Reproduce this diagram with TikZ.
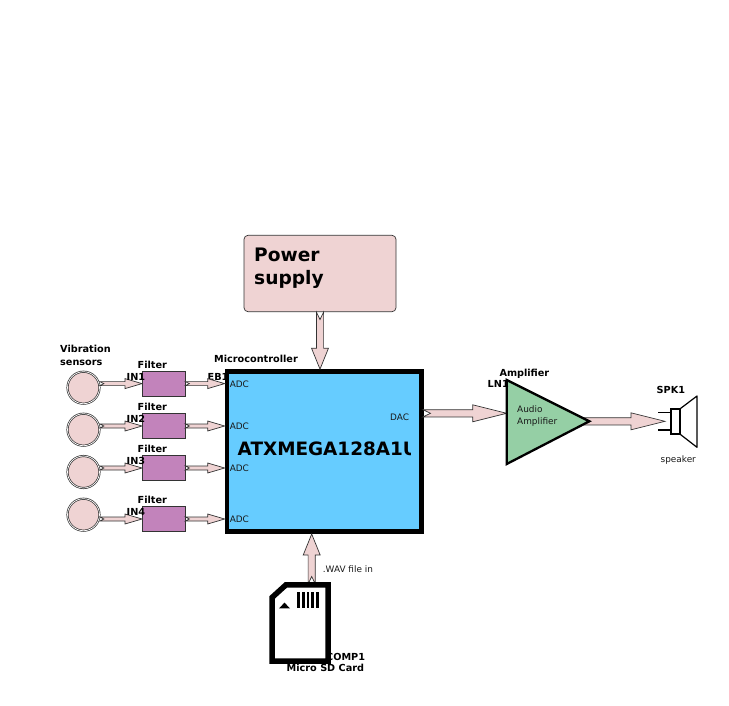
\documentclass[tikz,border=0pt]{standalone}
\usepackage{fontspec}
\setmainfont{DejaVu Sans}
\usetikzlibrary{positioning}
\usetikzlibrary{calc}
\definecolor{palepink}{HTML}{EFD3D3}
\definecolor{filterpurple}{HTML}{C283BB}
\definecolor{mcublue}{HTML}{66CCFF}
\definecolor{ampgreen}{HTML}{95CFA5}

\begin{document}
\begin{tikzpicture}
    [
    x=1pt, y=-1pt,
    sensor/.style={circle, fill=palepink, draw=black!80, double=white, double distance=0.7pt, line width=0.7pt, minimum size=32pt, inner sep=0pt},
    filterbox/.style={rectangle, fill=filterpurple, draw=black!80, line width=0.7pt, minimum width=42.7pt, minimum height=25.4pt, inner sep=0pt},
    title/.style={anchor=base west, inner sep=0pt, font=\fontsize{9.7}{11.5}\selectfont\bfseries},
    note/.style={anchor=base west, inner sep=0pt, font=\fontsize{8.9}{12}\selectfont, text=black!90},
    pipe/.style n args={4}{draw=black!80, fill=palepink, line width=0.7pt, line join=miter, to path={
        ($(\tikztostart)!#1pt!90:(\tikztotarget)$)
        -- ($(\tikztotarget)!#3pt!(\tikztostart)!#1pt!90:(\tikztotarget)$)
        -- ($(\tikztotarget)!#3pt!(\tikztostart)!#2pt!90:(\tikztotarget)$)
        -- (\tikztotarget)
        -- ($(\tikztotarget)!#3pt!(\tikztostart)!#2pt!-90:(\tikztotarget)$)
        -- ($(\tikztotarget)!#3pt!(\tikztostart)!#1pt!-90:(\tikztotarget)$)
        -- ($(\tikztostart)!#1pt!-90:(\tikztotarget)$)
        -- ($(\tikztostart)!#4pt!(\tikztotarget)$)
        -- cycle}},
    smallpipe/.style={pipe={2}{5}{17}{4}},
    bigpipe/.style={pipe={3.6}{8.5}{21}{7.5}},
    longpipe/.style={pipe={3.6}{8.5}{34}{7.5}},
    ]

    \useasboundingbox (0,0) rectangle (729,705);

    % power and controller
    \node[rectangle, rounded corners=4pt, fill=palepink, draw=black!80, line width=0.7pt, minimum width=152pt, minimum height=76.4pt, inner sep=0pt]
    (power) at (320,273.5) {};
    \node[title, font=\fontsize{18.6}{23}\selectfont\bfseries] (power_one) at (254,261.7) {Power};
    \node[title, font=\fontsize{18.6}{23}\selectfont\bfseries] (power_two) at (254,284.3) {supply};

    \node[rectangle, fill=mcublue, draw=black, line width=4.7pt, minimum width=194.5pt, minimum height=160.2pt, inner sep=0pt]
    (mcu) at (324.25,451.6) {};
    \begin{scope}
        \clip (229,430) rectangle (410.5,465);
        \node[title, font=\fontsize{18.4}{22}\selectfont\bfseries] (mcu_name) at (237.5,455) {ATXMEGA128A1U};
    \end{scope}
    \node[title] (mcu_title) at (214,362.7) {Microcontroller};
    \node[title] (eb_one) at (207.5,380) {EB1};

    \node[note] (adc_one) at (229.6,387) {ADC};
    \node[note] (adc_two) at (229.6,429) {ADC};
    \node[note] (adc_three) at (229.6,471.5) {ADC};
    \node[note] (adc_four) at (229.6,522.5) {ADC};
    \node[note] (dac) at (390,420.7) {DAC};

    \draw[bigpipe] (power.south) to (power.south |- mcu.north);

    % sensor rows
    \node[title] (sens_one) at (60,352.7) {Vibration};
    \node[title] (sens_two) at (60,365) {sensors};

    \node[sensor] (sens1) at (83.5,387.7) {};
    \node[sensor] (sens2) at (83.5,429.7) {};
    \node[sensor] (sens3) at (83.5,472) {};
    \node[sensor] (sens4) at (83.5,514.7) {};

    \node[filterbox] (filt1) at (163.7,383.6) {};
    \node[filterbox] (filt2) at (163.7,426) {};
    \node[filterbox] (filt3) at (163.7,468) {};
    \node[filterbox] (filt4) at (163.7,519) {};

    \node[title] (filt1_title) at (137.5,368.7) {Filter};
    \node[title] (filt2_title) at (137.5,410.7) {Filter};
    \node[title] (filt3_title) at (137.5,452.7) {Filter};
    \node[title] (filt4_title) at (137.5,503.7) {Filter};

    \draw[smallpipe] (sens1.east |- filt1.west) to (filt1.west);
    \draw[smallpipe] (sens2.east |- filt2.west) to (filt2.west);
    \draw[smallpipe] (sens3.east |- filt3.west) to (filt3.west);
    \draw[smallpipe] (sens4.east |- filt4.west) to (filt4.west);

    \node[title] (in1) at (126.5,380) {IN1};
    \node[title] (in2) at (126.5,422) {IN2};
    \node[title] (in3) at (126.5,464) {IN3};
    \node[title] (in4) at (126.5,515) {IN4};

    \draw[smallpipe] (filt1.east) to (filt1.east -| mcu.west);
    \draw[smallpipe] (filt2.east) to (filt2.east -| mcu.west);
    \draw[smallpipe] (filt3.east) to (filt3.east -| mcu.west);
    \draw[smallpipe] (filt4.east) to (filt4.east -| mcu.west);

    % amplifier
    \coordinate (amp_top) at (506.7,380);
    \coordinate (amp_bot) at (506.7,464);
    \coordinate (amp_in) at (506.7,413.3);
    \coordinate (amp_out) at (589.3,421.3);
    \coordinate (amp_mid) at (575,421.3);
    \coordinate (mcu_out) at (423,413.3);
    \coordinate (spk_in) at (665,421.3);

    \draw[longpipe] (mcu_out) to (amp_in);
    \draw[longpipe] (amp_mid) to (spk_in);

    \draw[fill=ampgreen, line width=2.3pt, line join=miter] (amp_top) -- (amp_out) -- (amp_bot) -- cycle;
    \node[title] (amp_title) at (499.3,376.7) {Amplifier};
    \node[title] (ln_one) at (487.5,387.7) {LN1};
    \node[note] (amp_one) at (517,412) {Audio};
    \node[note] (amp_two) at (517,424) {Amplifier};

    % speaker
    \coordinate (wire_a) at (658.3,412.7);
    \coordinate (wire_b) at (658.3,430);
    \node[rectangle, draw=black, fill=white, line width=1.2pt, minimum width=9pt, minimum height=25pt, inner sep=0pt]
    (spk) at (675.5,421.5) {};
    \draw[line width=1.2pt] (wire_a) -- (wire_a -| spk.west);
    \draw[line width=1.2pt] (wire_b) -- (wire_b -| spk.west);
    \draw[line width=1.2pt, line join=round] (spk.north east) -- (697,396) -- (697,447.3) -- (spk.south east);
    \node[title] (spk_title) at (656.5,393.7) {SPK1};
    \node[note] (spk_note) at (660.5,462.7) {speaker};

    % sd card
    \coordinate (card_top) at (311.7,584);
    \draw[bigpipe] (card_top) to (card_top |- mcu.south);
    \node[title] (comp_one) at (326,660.7) {COMP1};
    \draw[fill=white, line width=5.5pt, line join=miter] (272,597.5) -- (286,584.8) -- (328,584.8) -- (328,661) -- (272,661) -- cycle;
    \fill (279,608.3) -- (284.5,602.7) -- (290,608.3) -- cycle;
    \draw[line width=2.9pt] (298.2,592) -- (298.2,608.3);
    \draw[line width=2.9pt] (303.1,592) -- (303.1,608.3);
    \draw[line width=2.9pt] (308,592) -- (308,608.3);
    \draw[line width=2.9pt] (312.9,592) -- (312.9,608.3);
    \draw[line width=2.9pt] (317.8,592) -- (317.8,608.3);

    \node[note] (wav) at (322.7,572.3) {.WAV file in};
    \node[title] (card_title) at (286.5,671.7) {Micro SD Card};
\end{tikzpicture}
\end{document}
